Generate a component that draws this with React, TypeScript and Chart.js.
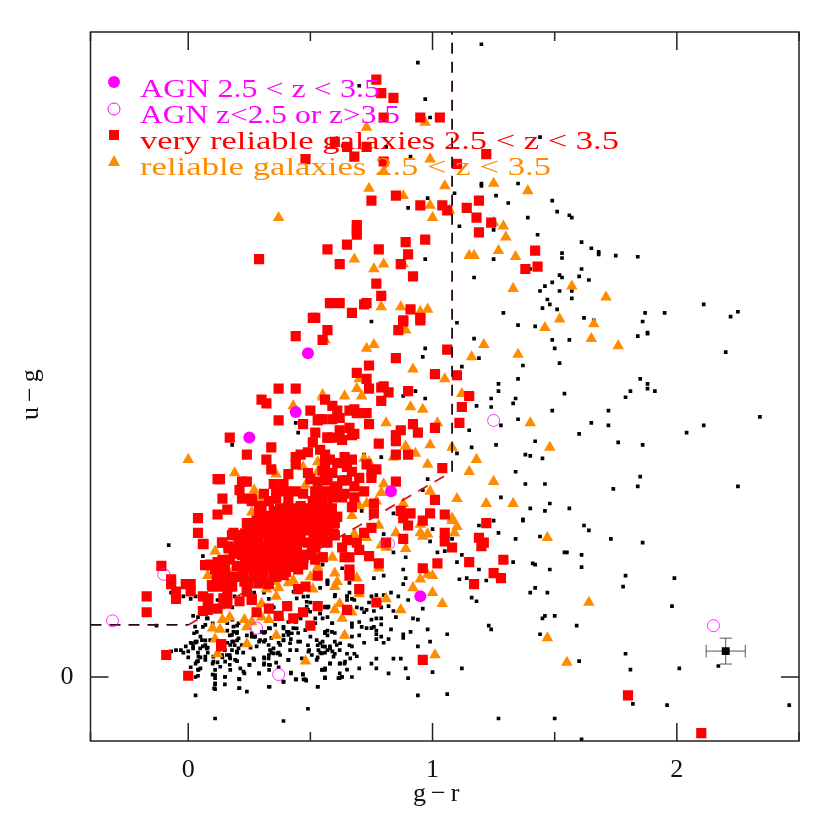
import React, { useEffect, useRef } from "react";
import { Chart, registerables } from "chart.js";

Chart.register(...registerables);

type P = [number, number];

const agnIn: P[] = [[0.49,1.325],[0.44,1.085],[0.25,0.98],[0.83,0.76],[0.95,0.33]];
const agnOut: P[] = [[1.25,1.05],[-0.31,0.23],[-0.10,0.42],[0.28,0.20],[0.37,0.01],[0.82,0.545],[2.15,0.21]];

const veryReliableUpper: P[] = [
[.77,2.445],[.79,2.39],[.84,2.37],[.80,2.29],[.95,2.29],[1.03,2.29],[.60,2.19],[.65,2.17],[.73,2.17],[.68,2.13],[.48,2.12],[.80,2.11],[1.10,2.10],[.85,1.97],[.75,1.95],[.95,1.93],[1.04,1.93],[1.06,1.91],[1.14,1.92],[1.19,1.95],[1.18,1.88],[1.19,1.82],[.69,1.85],[.69,1.83],[.69,1.81],[.89,1.78],[.97,1.79],[.65,1.77],[.57,1.75],[.78,1.75],[.90,1.73],[.29,1.71],[.87,1.69],[.62,1.69],[.92,1.64],[.77,1.61],[.79,1.56],[.58,1.53],[.62,1.53],[.73,1.53],[.72,1.525],[.91,1.505],[.67,1.49],[.51,1.47],[.52,1.47],[.88,1.46],[.95,1.47],
[1.22,2.14],[1.24,1.86],[1.42,1.745],[1.43,1.68],[1.38,1.67],
[.57,1.42],[.44,1.395],[.55,1.38],[.37,1.18],[.44,1.18],[.56,1.135],[.30,1.135],[.32,1.12],[.50,1.09],[.37,1.05],[.47,1.035],[.53,1.05],[.54,1.055],[.52,1.00],[.57,.98],[.17,.98],[.24,.91],[.34,.94],[.32,.89],[.51,.96],[.54,.93],[.49,.92],[.46,.91],[.44,.90],[.44,.87],[.56,.89],[.34,.85],[.56,.855],[.49,.835],[.41,.83],[.50,.81],[.53,.80],[.56,.82],[.39,.79],[.35,.79],[.24,.80],[.22,.80],[.21,.765],[.12,.81],[.13,.81],[.14,.73],[.22,.73],[.26,.73],[.36,.765],[.36,.73],[.16,.685],[.12,.665],[.04,.65],[.29,.68],
];

const veryReliableMid: P[] = [
[.88,1.455],[.95,1.46],[.86,1.42],[1.06,1.34],[.85,1.305],[.74,1.275],[.69,1.245],[1.01,1.24],[1.10,1.235],[.73,1.22],[.74,1.18],[.80,1.19],[.79,1.185],[.82,1.165],[.90,1.17],[1.15,1.15],[.79,1.13],[1.12,1.105],[.59,1.11],[.61,1.09],[.62,1.06],[.59,1.055],[.66,1.09],[.68,1.095],[.69,1.08],[.73,1.08],[.74,1.035],[.55,1.055],[1.11,1.04],[.92,1.035],[.94,1.00],[1.01,1.02],[.87,1.01],[.85,.99],[.85,.965],[.66,1.02],[.62,1.01],[.68,.995],[.57,.98],[.59,.98],[.63,.97],[.67,.99],[.78,.955],[.85,.91],[.90,.91],[1.04,.855],[.73,.87],[.77,.85],[.75,.835],[.75,.815],[.85,.80],[.72,.76],[1.01,.725],[.67,.695],[.87,.68],[.91,.67],[.99,.67],[1.05,.665],[.76,.71],[.76,.67],
[.56,.91],[.58,.89],[.61,.875],[.64,.90],[.67,.89],[.65,.86],[.67,.84],[.63,.805],[.65,.805],[.70,.815],[.59,.835],[.55,.845],[.57,.805],[.61,.78],[.68,.78],[.68,.735],[.63,.735],[.59,.735],[.55,.735],[.57,.695],[.61,.655],
[1.22,.63],[1.19,.57],[1.21,.55],[1.20,.535],[1.05,.59],[1.05,.555],[1.08,.53],[.88,.565],[.81,.55],[1.15,.47],[1.02,.465],[1.29,.48],[.96,.445],[.78,.465],[.74,.495],[.70,.52],[.69,.55],[.72,.59],[.75,.61],[.65,.56],[.66,.49],[.64,.49],[.63,.53],[.55,.49],[.66,.44],[.66,.415],[.70,.36],[1.25,.425],[1.28,.405],[1.17,.38],[.77,.305],[.65,.275],[.96,.07],[.90,.62],[.96,.64],[.88,.65],
[1.80,-.075],[2.10,-.23],
];

const veryReliableLower: P[] = [
[.04,.59],[.06,.545],[.14,.55],[-.11,.455],[-.07,.40],[-.07,.38],[-.05,.35],[-.05,.32],[-.01,.38],[.01,.38],[.01,.35],[-.17,.33],[-.17,.265],[-.09,.09],[0,.005],[.135,.135],[.135,.125],
[.06,.33],[.08,.315],[.06,.27],[.08,.275],[.12,.28],[.16,.30],[.21,.31],[.26,.315],[.28,.265],[.33,.28],[.37,.25],[.405,.29],[.43,.24],[.47,.265],[.48,.37],[.45,.36],[.53,.29],[.50,.21],[.53,.415],[.45,.44],[.55,.49],[.52,.53],[.09,.46],[.12,.47],[.14,.48],[.20,.455],[.12,.41],[.16,.41],[.10,.37],[.14,.37],[.18,.37],[.16,.335],[.165,.535],[.185,.505],[.21,.56],[.185,.59],[.24,.63],[.25,.59],[.25,.53],[.28,.49],[.24,.465],[.30,.53],[.35,.53],[.405,.53],[.445,.52],[.49,.55],[.54,.59],[.57,.60],[.51,.64],[.46,.63],[.405,.64],[.35,.64],[.295,.67],[.375,.59],[.32,.60],[.27,.41],[.24,.355],[.26,.32],[.225,.425],[.30,.46],[.375,.48],[.35,.57],[.43,.59],[.49,.60],[.405,.49],[.32,.505],[.25,.63],
[.26,.72],[.30,.70],[.35,.68],[.41,.72],[.46,.70],[.51,.72],[.54,.71],[.58,.66],[.28,.64],[.32,.66],[.37,.65],[.41,.61],[.44,.66],[.49,.67],[.52,.65],[.55,.64],[.60,.63],[.30,.585],[.33,.56],[.37,.54],[.39,.60],[.42,.56],[.46,.56],[.52,.57],[.55,.57],[.57,.55],[.60,.58],[.29,.52],[.33,.50],[.38,.52],[.43,.50],[.47,.50],[.50,.50],[.52,.48],[.34,.46],[.38,.44],[.42,.47],[.47,.46],[.36,.41],[.40,.43],[.30,.40],[.33,.38],[.28,.44],[.26,.46],[.44,.76],[.47,.75],[.52,.76],[.40,.76],[.56,.76],[.60,.77],[.64,.75],[.31,.75],[.33,.72],[.42,.62],[.46,.60],[.50,.61],[.35,.61],[.30,.62],[.26,.55],[.22,.50],[.20,.52],[.17,.48],[.15,.44],[.11,.44],[.19,.41],[.23,.39],
];

const veryReliableCore: P[] = [
[.376,.69],[.417,.69],[.458,.69],[.499,.69],[.54,.69],[.588,.69],
[.322,.656],[.363,.656],[.404,.656],[.445,.656],[.485,.656],[.526,.656],[.567,.656],[.608,.656],
[.247,.622],[.288,.622],[.329,.622],[.37,.622],[.41,.622],[.451,.622],[.492,.622],[.533,.622],[.574,.622],
[.233,.588],[.274,.588],[.315,.588],[.356,.588],[.397,.588],[.438,.588],[.513,.588],[.554,.588],[.595,.588],
[.206,.554],[.247,.554],[.288,.554],[.329,.554],[.37,.554],[.41,.554],[.451,.554],[.526,.554],[.567,.554],
[.192,.52],[.233,.52],[.274,.52],[.315,.52],[.356,.52],[.397,.52],[.438,.52],[.506,.52],
[.233,.486],[.274,.486],[.315,.486],[.356,.486],[.397,.486],[.438,.486],[.472,.486],
[.24,.451],[.281,.451],[.322,.451],[.363,.451],[.404,.451],[.445,.451],
[.226,.417],[.267,.417],[.308,.417],[.349,.417],[.39,.417],
[.247,.383],[.288,.383],[.329,.383],[.24,.349],
[.199,.513],[.131,.465],[.09,.458],[.069,.458],[.063,.544],[.138,.55],[.165,.526],[.179,.581],[.199,.581],[.117,.41],[.144,.41],[.097,.376],[.131,.376],[.165,.37],[.083,.322],[.144,.322],
];

const reliableUpper: P[] = [
[1.25,2.02],[1.39,1.99],[1.25,1.86],[1.29,1.845],[1.30,1.80],[1.15,1.725],[1.17,1.725],[1.27,1.745],[1.34,1.72],[1.33,1.59],[1.57,1.60],[1.71,1.555],[1.52,1.465],[1.66,1.445],[1.65,1.385],[1.76,1.355],
[.73,2.25],[.97,2.27],[.99,2.12],[.80,2.07],[1.05,2.01],[.74,2.00],[.88,1.97],[.99,1.93],[1.00,1.88],[1.07,1.91],[.37,1.88],[.68,1.71],[.80,1.69],[.76,1.67],[.88,1.69],[.79,1.515],[.87,1.515],[.95,1.495],[.98,1.505],
[0,.89],[.19,.835],[.26,.675],[.27,.765],[.29,.73],[.36,.83],[.47,.86],[.53,.88],[.53,.84],[.48,.785],[.43,1.11],[.55,1.145],[.56,1.38],[.40,.71],
[.89,1.42],[.73,1.345],[.76,1.36],[1.21,1.36],[1.16,1.31],[1.46,1.43],[1.35,1.32],[.92,1.26],[1.05,1.22],[.70,1.22],[.69,1.18],[.71,1.15],[.64,1.15],[.55,1.155],[1.12,1.16],[.91,1.105],[.96,1.095],[.81,1.04],[1.02,1.04],[1.40,1.04],[.99,.95],[1.08,.94],[.89,.945],[.93,.915],[1.48,.94],[.84,.90],[.98,.87],[1.18,.89],[1.15,.84],[1.25,.80],[.99,.76],[1.10,.73],[1.22,.71],[1.33,.71],[.80,.79],[.79,.755],[.88,.71],[.77,.72],[.73,.71],[.70,.70],[.67,.66],[.72,.895],[.74,.88],[1.08,.65],
];

const reliableLower: P[] = [
[1.64,.305],[1.55,.06],[1.47,.57],[1.08,.64],[1.10,.615],[1.09,.59],[.95,.625],[.95,.59],[.98,.585],[.96,.575],[.78,.62],[.73,.57],[.68,.585],[.85,.59],[.79,.54],[.81,.53],[.89,.525],[.59,.49],[.78,.445],[1.00,.415],[.98,.42],[.95,.40],[.69,.405],[.60,.425],[.61,.39],[.60,.37],[.92,.365],[1.00,.345],[.70,.34],[.81,.32],[1.04,.30],[.87,.275],[.62,.30],[.60,.275],[.67,.265],[.63,.24],[.64,.17],[1.47,.16],[1.01,.09],
[.11,.515],[.08,.415],[.51,.36],[.53,.45],[.50,.41],[.43,.395],[.41,.385],[.37,.365],[.36,.33],[.32,.36],[.35,.39],[.30,.30],[.14,.235],[.17,.245],[.23,.235],[.26,.225],[.24,.205],[.30,.245],[.33,.235],[.10,.20],[.13,.195],[.11,.155],[.24,.135],[.12,.095],[.36,.17],[.48,.065],[.375,.245],[.185,.44],[.13,.29],
];

const otherUpper: P[] = [
[1.20,2.59],[1.44,2.21],[1.23,2.15],[1.20,2.02],[1.20,2.01],[1.35,2.02],[1.09,1.98],[1.26,1.97],[1.31,1.94],[1.49,1.95],[1.51,1.905],[1.56,1.89],[1.57,1.88],[1.39,1.88],[1.11,1.845],[1.25,1.83],[1.43,1.81],[1.61,1.78],[1.65,1.755],[1.68,1.74],[1.68,1.73],[1.75,1.725],[1.84,1.72],[1.53,1.735],[1.53,1.715],[1.25,1.71],[1.40,1.67],[1.61,1.67],[1.60,1.64],[1.64,1.625],[1.52,1.645],[1.53,1.635],[1.17,1.635],[1.46,1.60],[1.49,1.615],[1.44,1.58],[1.52,1.58],[1.57,1.58],[1.57,1.55],[1.47,1.545],[1.48,1.525],[1.45,1.51],[1.51,1.505],[1.29,1.49],[1.62,1.47],[1.87,1.49],[1.95,1.49],[2.11,1.525],[2.22,1.475],[2.25,1.495],
[.94,2.515],[.70,2.42],[.97,2.365],[.99,2.29],[.91,2.13],[.81,2.17],[.98,1.96],[.90,1.92],[.97,1.71],
[.44,1.04],[.45,1.00],[.18,.95],
[.75,1.455],[1.10,1.45],[1.35,1.44],[1.42,1.435],[1.49,1.38],[1.56,1.38],[1.17,1.385],[1.50,1.345],[.97,1.345],[.96,1.31],[1.19,1.305],[1.12,1.27],[1.37,1.275],[1.52,1.285],[1.35,1.22],[1.27,1.20],[1.27,1.17],[1.54,1.16],[.93,1.17],[.88,1.15],[.97,1.14],[1.24,1.14],[1.34,1.14],[1.33,1.12],[1.18,1.11],[1.24,1.105],[1.49,1.09],[1.35,1.055],[1.28,1.03],[1.15,1.01],[1.16,.94],[1.26,.95],[1.42,.965],[1.38,.91],[1.40,.905],[1.45,.895],[1.10,.915],[1.34,.84],[.72,.91],[.79,.90],[.98,.81],[1.38,.79],[1.46,.79],[.96,.765],[1.28,.735],[1.48,.71],[1.40,.69],[1.46,.68],[1.56,.69],[1.37,.645],[.71,.68],[.84,.67],
[1.86,1.455],[1.88,1.41],[1.88,1.405],[1.84,1.395],[1.66,1.46],[2.20,1.33],[1.85,1.22],[1.88,1.20],[1.88,1.18],[1.91,1.17],[1.81,1.17],[1.79,1.145],[1.72,1.09],[1.65,1.04],[1.72,1.03],[1.60,.995],[2.34,1.065],[2.11,1.03],[2.04,1.00],[1.76,.96],[1.86,.95],[1.85,.82],[1.84,.78],[1.74,.77],[2.25,.78],
];

const otherRight: P[] = [
[1.62,.62],[1.64,.60],[1.73,.565],[1.86,.55],[1.54,.51],[1.55,.51],[1.61,.50],[1.61,.45],[1.79,.415],[1.99,.405],[1.78,.37],[1.98,.29],[1.59,.21],[1.79,.095],[1.60,.065],[1.81,.03],[2.01,.035],[2.17,.045],[1.82,-.11],[1.96,-.115],[2.46,-.115],[1.61,-.255],
[1.19,.62],[1.25,.64],[1.37,.64],[1.27,.59],[1.44,.575],[1.34,.565],[1.08,.565],[.99,.555],[1.00,.605],[1.02,.51],[1.05,.515],[1.12,.50],[1.10,.47],[1.33,.47],[1.41,.465],[1.42,.46],[1.48,.44],[1.19,.44],[.80,.585],[.84,.51],[.89,.49],[.88,.44],[.89,.405],[.88,.38],[.80,.415],[.76,.405],[1.11,.40],[1.14,.405],[1.22,.395],[1.40,.345],[1.42,.365],[1.47,.345],[1.16,.325],[1.18,.31],[.86,.33],[.83,.345],[.90,.315],[.82,.29],[.79,.285],[.76,.27],[.84,.27],[.96,.28],[.85,.245],[.92,.24],[.94,.235],[1.46,.25],[1.45,.24],[1.50,.25],[1.23,.21],[1.24,.195],[.98,.195],[.83,.195],[1.44,.175],[1.06,.175],[.91,.185],[.88,.175],[.88,.16],[.99,.145],[.94,.125],[.82,.155],[.80,.14],[.77,.19],[.79,.165],[.77,.175],[.77,.155],[.72,.14],[.70,.17],[.67,.165],[.77,.075],[.84,.075],[.87,.075],[.75,.055],[.77,.035],[.82,.015],[.89,.035],[.90,-.005],[1.00,.02],[1.12,.035],[.94,-.075],[1.06,-.07],[1.27,-.17],[1.50,-.17],
];

const otherCloudA: P[] = [
[.66,.345],[.65,.33],[.67,.32],[.68,.315],[.65,.315],[.74,.305],[.75,.33],[.77,.335],[.80,.335],[.69,.285],[.71,.28],[.73,.275],[.72,.265],[.70,.225],[.67,.22],[.67,.205],[.71,.205],[.73,.2],[.75,.2],[.76,.205],[.75,.235],[.77,.24],[.79,.24],[.79,.215],[.59,.22],[.56,.18],[.57,.19],[.60,.18],[.55,.145],[.60,.145],[.58,.125],[.55,.125],[.62,.11],[.56,.10],[.59,.105],[.60,.095],[.66,.13],[.67,.125],[.65,.095],[.68,.095],[.69,.085],[.58,.055],[.62,.055],[.64,.055],[.55,.03],[.56,.035],[.62,.015],[.65,.03],[.70,.035],[.62,-.005],[.63,0],[.56,-.005],[.67,0],[.55,.46],[.63,.445],[.57,.395],[.57,.385],[.66,.385],[.54,.365],[.60,.33],[.65,.33],[.57,.285],[.54,.26],[.55,.24],[.56,.285],
];

const otherCloudB: P[] = [
[-.08,.54],[.06,.495],[-.13,.21],[-.07,.345],[-.02,.33],[.01,.32],[.03,.33],[-.07,.105],[-.05,.11],[-.03,.11],[-.01,.125],[.01,.14],[.03,.14],[.02,.125],[-.02,.10],[0,.08],[0,.105],[.04,.10],[.06,.125],[.08,.12],[.04,.065],[.03,.055],[.05,.08],[.01,.04],[.04,.03],[.05,.035],[.03,0],[.04,.005],[.08,.10],[.10,.055],[.12,.06],[.10,.01],[.11,-.005],[.11,-.03],[.11,-.05],[.15,0],[.15,-.03],[.03,-.075],[.11,-.17],[.21,-.01],[.21,-.045],[.24,-.06],[.39,-.18],[.49,-.13],[.29,.015],[.33,-.04],[.39,-.02],[.44,-.01],[.48,-.01],[.47,.01],[.42,.015],[.53,-.04],[.37,.04],[.17,.05],[.20,.065],[.23,.015],[.25,.05],[.31,.05],[.31,.08],[.27,.07],[.33,.05],[.41,.07],[.37,.10],[.34,.10],[.33,.09],[.15,.11],[.17,.09],[.20,.10],[.16,.14],[.18,.145],[.20,.15],[.17,.17],[.20,.185],[.16,.22],[.20,.21],[.18,.235],[.16,.19],[.19,.13],[.08,.24],[.10,.22],[.04,.245],[.06,.205],[.03,.145],[.05,.165],[.07,.15],[.27,.165],[.29,.145],[.31,.145],[.24,.17],[.26,.165],[.28,.125],[.31,.18],[.33,.20],[.34,.16],[.37,.14],[.39,.17],[.41,.185],[.43,.20],[.45,.18],[.39,.15],[.42,.155],[.45,.145],[.50,.165],[.49,.13],[.495,.11],[.53,.13],[.54,.10],[.53,.08],[.57,.11],[.49,.33],[.50,.305],[.49,.275],[.57,.285],[.54,.26],[.57,.245],[.52,.24],[.41,.225],[.39,.205],[.44,.225],[.46,.24],[.56,.185],[.57,.17],[.57,.395],[.57,.38],[.27,.345],[.33,.32],[.35,.285],[.31,.345],[.18,.285],[.19,.33],[.12,.315],[.225,.10],[.255,.12],[.17,.08],[.14,.08],
];

const otherCloudC: P[] = [
[.02,.25],[.076,.24],[.028,.206],[.07,.213],[.035,.185],[.024,.179],[.015,.138],[.035,.145],[.056,.151],[.07,.131],[.09,.151],[.049,.117],[.02,.117],[.076,.117],[.042,.083],[.07,.083],[.07,.07],[.035,.063],[.042,.029],[.103,.083],[.138,.09],[.158,.09],[.172,.076],[.192,.07],[.151,.063],[.103,.063],[.131,.042],[.11,.029],[.172,.029],[.11,.008],[.151,.001],[.11,-.026],[.106,-.046],[.213,.035],[.226,.022],[.208,-.008],[.208,-.046],[.251,.049],[.267,.076],[.29,.015],[.311,.056],[.329,.076],[.335,.049],[.311,.076],[.331,.029],[.349,.097],[.365,.097],[.376,.09],[.36,.059],[.41,.07],[.42,.018],[.333,-.04],[.39,-.019],[.442,-.01],[.469,.012],[.472,-.01],[.483,-.015],[.53,-.04],[.56,.029],[.547,.029],[.56,-.001],[.615,-.005],[.629,.001],[.581,.056],[.622,.056],[.642,.063],
[.185,.206],[.185,.185],[.179,.172],[.199,.179],[.206,.22],[.185,.145],[.172,.131],[.179,.11],[.199,.104],[.206,.117],[.219,.131],[.206,.158],[.26,.179],[.274,.165],[.294,.151],[.315,.151],[.329,.131],[.335,.11],[.349,.117],[.301,.185],[.315,.185],[.335,.199],[.356,.213],[.39,.199],[.404,.185],[.41,.172],[.424,.179],[.39,.151],[.417,.138],[.458,.145],[.444,.199],[.479,.192],[.458,.247],[.52,.22],[.499,.267],[.56,.179],[.588,.185],[.588,.22],[.56,.288],[.574,.288],[.526,.151],[.54,.138],[.492,.104],[.506,.09],[.465,.076],[.444,.11],[.417,.11],[.376,.131],[.533,.11],[.56,.124],[.581,.117],[.608,.131],[.622,.138],[.526,.07],[.663,.076],[.547,.097],[.601,.336],[.601,.274],[.485,.288],[.444,.322],[.472,.329],[.485,.308],[.431,.349],[.595,.083],
];

const cutH: P[] = [[-0.4,0.213],[0,0.213]];
const cutSlant: P[] = [[0,0.213],[1.07,0.835]];
const cutV: P[] = [[1.08,0.84],[1.08,2.64]];
const errPoint: P[] = [[2.20,0.106]];
const errBars: P[] = [
  [2.12,0.106],[2.28,0.106],[NaN,NaN],
  [2.20,0.053],[2.20,0.159],[NaN,NaN],
  [2.175,0.053],[2.225,0.053],[NaN,NaN],
  [2.175,0.159],[2.225,0.159],[NaN,NaN],
  [2.12,0.08],[2.12,0.132],[NaN,NaN],
  [2.28,0.08],[2.28,0.132],
];

const legendLabels = ["AGN 2.5 < z < 3.5", "AGN z<2.5 or z>3.5", "very reliable galaxies 2.5 < z < 3.5", "reliable galaxies 2.5 < z < 3.5"];
const legendColors = ["#ff00ff", "#ff00ff", "#ff0000", "#ff8c00"];
const legendWidths = [240, 260, 479, 411];
const xTitle = "g\u2212r";
const yTitle = "u\u2212g";
const FONT = "'Liberation Serif', serif";

const toXY = (a: P[]) => a.map(([x, y]) => ({ x, y }));

const frame = {
  id: "frame",
  afterDatasetsDraw(chart: any) {
    const { ctx, chartArea: a, scales } = chart;
    ctx.save();
    ctx.strokeStyle = "#222";
    ctx.lineWidth = 1.5;
    ctx.strokeRect(a.left, a.top, a.right - a.left, a.bottom - a.top);
    scales.x.ticks.forEach((t: any) => {
      const p = scales.x.getPixelForValue(t.value);
      const len = Number.isInteger(t.value) ? 18 : 9;
      ctx.beginPath();
      ctx.moveTo(p, a.bottom); ctx.lineTo(p, a.bottom - len);
      ctx.moveTo(p, a.top); ctx.lineTo(p, a.top + len);
      ctx.stroke();
    });
    const p0 = scales.y.getPixelForValue(0);
    ctx.beginPath();
    ctx.moveTo(a.left, p0); ctx.lineTo(a.left + 18, p0);
    ctx.moveTo(a.right, p0); ctx.lineTo(a.right - 18, p0);
    ctx.stroke();

    // axis titles
    ctx.font = `26px ${FONT}`;
    ctx.textBaseline = "alphabetic";
    ctx.fillStyle = "#111";
    ctx.letterSpacing = "5px";
    ctx.fillText(xTitle, 413, 801);
    ctx.save();
    ctx.translate(38, 420);
    ctx.rotate(-Math.PI / 2);
    ctx.fillText(yTitle, 0, 0);
    ctx.restore();
    ctx.letterSpacing = "0px";

    // legend
    const rows = [97, 123, 149, 175];
    const mx = 114;
    const my = [82, 109, 135, 161];
    legendLabels.forEach((txt, i) => {
      ctx.fillStyle = legendColors[i];
      const w = ctx.measureText(txt).width;
      ctx.save();
      ctx.translate(140, rows[i]);
      ctx.scale(legendWidths[i] / w, 1);
      ctx.fillText(txt, 0, 0);
      ctx.restore();
    });
    ctx.fillStyle = legendColors[0];
    ctx.beginPath(); ctx.arc(mx, my[0], 6, 0, Math.PI * 2); ctx.fill();
    ctx.strokeStyle = legendColors[1];
    ctx.lineWidth = 1;
    ctx.beginPath(); ctx.arc(mx, my[1], 6, 0, Math.PI * 2); ctx.stroke();
    ctx.fillStyle = legendColors[2];
    ctx.fillRect(mx - 5, my[2] - 5, 10, 10);
    ctx.fillStyle = legendColors[3];
    ctx.beginPath(); ctx.moveTo(mx, my[3] - 6); ctx.lineTo(mx + 6, my[3] + 5); ctx.lineTo(mx - 6, my[3] + 5); ctx.closePath(); ctx.fill();
    ctx.restore();
  },
};

export default function App() {
  const ref = useRef<HTMLCanvasElement>(null);
  useEffect(() => {
    const pts = (label: string, data: P[], style: string, r: number, color: string, order: number) => ({
      label, data: toXY(data), pointStyle: style, pointRadius: r, backgroundColor: color, borderColor: color, borderWidth: 0, order,
    });
    const line = (label: string, data: P[], color: string, order: number) => ({
      label, data: toXY(data), showLine: true, pointRadius: 0, borderColor: color, borderWidth: 1.8, borderDash: [11, 8], order,
    });
    const chart = new Chart(ref.current!, {
      type: "scatter",
      data: {
        datasets: [
          pts("other", otherUpper, "rect", 2.6, "#000", 50),
          pts("other", otherRight, "rect", 2.6, "#000", 50),
          pts("other", otherCloudA, "rect", 2.6, "#000", 50),
          pts("other", otherCloudB, "rect", 2.6, "#000", 50),
          pts("other", otherCloudC, "rect", 2.6, "#000", 50),
          pts("reliable", reliableUpper, "triangle", 6.7, "#ff8c00", 40),
          pts("reliable", reliableLower, "triangle", 6.7, "#ff8c00", 40),
          pts("very reliable", veryReliableUpper, "rect", 7.2, "#ff0000", 30),
          pts("very reliable", veryReliableMid, "rect", 7.2, "#ff0000", 30),
          pts("very reliable", veryReliableLower, "rect", 7.2, "#ff0000", 30),
          pts("very reliable", veryReliableCore, "rect", 7.2, "#ff0000", 30),
          line("cutH", cutH, "#2a0a10", 10),
          line("cutSlant", cutSlant, "#d8101c", 10),
          line("cutV", cutV, "#2a0a10", 10),
          pts("AGN", agnIn, "circle", 6, "#ff00ff", 5),
          { label: "AGN other", data: toXY(agnOut), pointStyle: "circle", pointRadius: 6, backgroundColor: "transparent", borderColor: "#ff00ff", borderWidth: 0.8, order: 5 },
          { label: "errors", data: toXY(errBars), showLine: true, spanGaps: false, pointRadius: 0, borderColor: "#555", borderWidth: 1, order: 4 },
          pts("error point", errPoint, "rect", 5.6, "#000", 3),
        ] as any,
      },
      options: {
        responsive: false,
        animation: false,
        layout: { padding: { top: 32, right: 31, left: 0, bottom: 0 } },
        plugins: { legend: { display: false }, tooltip: { enabled: false } },
        scales: {
          x: {
            type: "linear",
            min: -0.4,
            max: 2.5,
            afterFit: (s: any) => { s.height = 89; },
            grid: { display: false },
            border: { display: false },
            ticks: {
              stepSize: 0.5,
              maxRotation: 0,
              autoSkip: false,
              padding: 6,
              color: "#111",
              font: { family: FONT, size: 26 },
              callback: (v: any) => (Number.isInteger(v) ? String(v) : ""),
            },
          },
          y: {
            type: "linear",
            min: -0.262,
            max: 2.64,
            afterFit: (s: any) => { s.width = 90.5; },
            afterBuildTicks: (s: any) => { s.ticks = [{ value: 0 }]; },
            grid: { display: false },
            border: { display: false },
            ticks: { padding: 9, color: "#111", font: { family: FONT, size: 26 }, callback: (v: any) => String(v) },
          },
        },
      },
      plugins: [frame],
    } as any);
    return () => chart.destroy();
  }, []);
  return (
    <div style={{ position: "absolute", left: 0, top: 0, width: 830, height: 830 }}>
      <canvas ref={ref} width={830} height={830} style={{ display: "block" }} />
    </div>
  );
}
